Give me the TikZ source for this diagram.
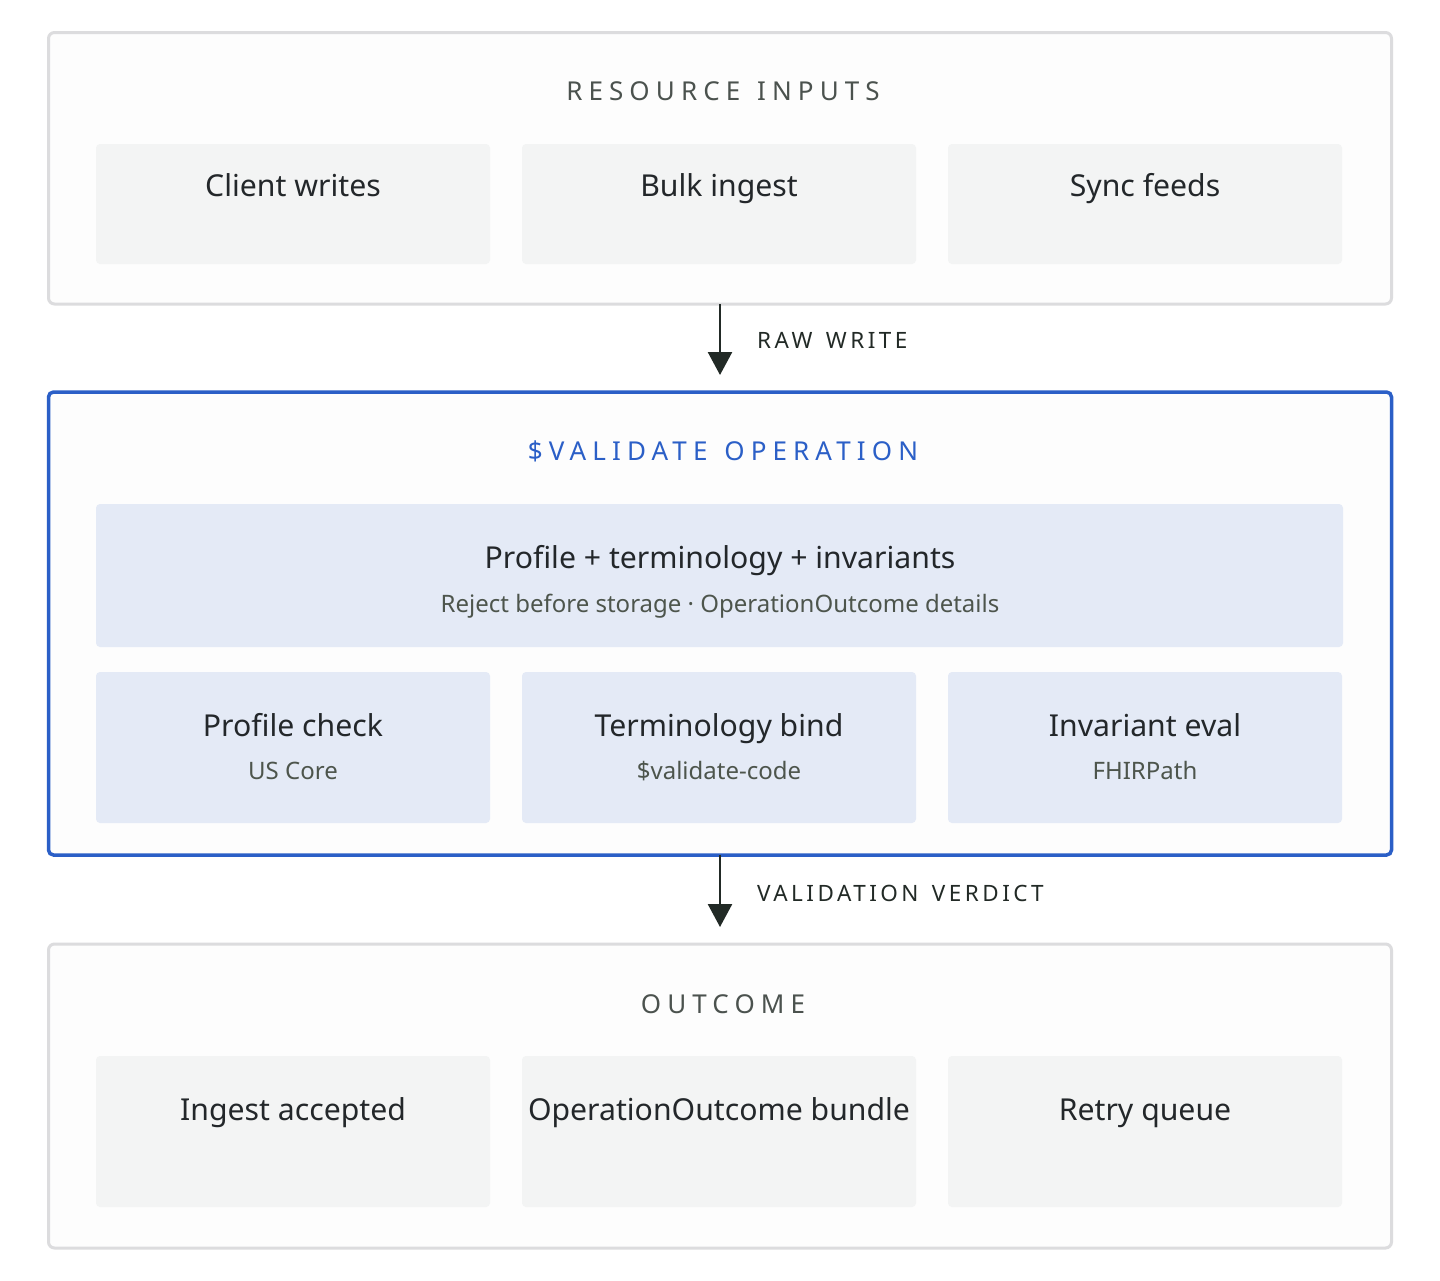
\documentclass[tikz,border=0pt]{standalone}
\usepackage{fontspec}
\setmainfont{Noto Sans}
\newfontfamily\spacedfont[LetterSpace=23.5]{Noto Sans}
\newfontfamily\labelfont[LetterSpace=15.5]{Noto Sans}
\usetikzlibrary{arrows.meta}
\definecolor{frameGray}{HTML}{DCDCDE}
\definecolor{frameFill}{HTML}{FDFDFD}
\definecolor{boxGray}{HTML}{F3F4F4}
\definecolor{blueLine}{HTML}{2B5FC7}
\definecolor{blueFill}{HTML}{E4EAF6}
\definecolor{titleInk}{HTML}{23272A}
\definecolor{subInk}{HTML}{4D554C}
\definecolor{secInk}{HTML}{4B524E}
\definecolor{arrowInk}{HTML}{222A26}
\newcommand{\wsp}{\hspace{4pt}}
\tikzset{
  frame/.style={draw=frameGray, line width=3pt, fill=frameFill, rounded corners=6pt},
  blueframe/.style={draw=blueLine, line width=3.5pt, fill=frameFill, rounded corners=5pt},
  graybox/.style={fill=boxGray, rounded corners=4pt},
  bluebox/.style={fill=blueFill, rounded corners=4pt},
  sectitle/.style={anchor=base, inner sep=0pt, text=secInk, font=\spacedfont\fontsize{26}{30}\selectfont},
  bluetitle/.style={anchor=base, inner sep=0pt, text=blueLine, font=\spacedfont\fontsize{26}{30}\selectfont},
  boxtitle/.style={anchor=base, inner sep=0pt, text=titleInk, font=\fontsize{30.2}{36}\selectfont},
  boxsub/.style={anchor=base, inner sep=0pt, text=subInk, font=\fontsize{24}{28}\selectfont},
  flowlabel/.style={anchor=base west, inner sep=0pt, text=arrowInk, font=\labelfont\fontsize{22.5}{26}\selectfont},
  flow/.style={draw=arrowInk, line width=2.5pt, -{Triangle[width=24pt,length=23pt]}},
}
\begin{document}
\begin{tikzpicture}[x=1pt,y=-1pt]
\useasboundingbox[fill=white] (0,0) rectangle (1440,1280);

% Top container
\path[frame] (48.5,32.5) rectangle (1391.5,304);
\node (topC) at (720,304) [inner sep=0pt] {};
\node[sectitle] (secA) at (723,100) {RESOURCE\wsp{} INPUTS};
\path[graybox] (96,144) rectangle (490,264);
\path[graybox] (522,144) rectangle (916,264);
\path[graybox] (948,144) rectangle (1342,264);
\node[boxtitle] (client) at (293,196) {Client writes};
\node[boxtitle] (bulk) at (719,196) {Bulk ingest};
\node[boxtitle] (sync) at (1145,196) {Sync feeds};

% Arrow 1
\coordinate (tip1) at (720,375);
\draw[flow] (topC.center) -- (tip1);
\node[flowlabel] (raw) at (757,348) {RAW\wsp{} WRITE};

% Middle container
\path[blueframe] (48.5,392) rectangle (1391.5,855);
\node (midC) at (720,855) [inner sep=0pt] {};
\node[bluetitle] (secB) at (723,460) {\$VALIDATE\wsp{} OPERATION};
\path[bluebox] (96,504) rectangle (1343,647);
\node[boxtitle] (wideT) at (720,568) {Profile + terminology + invariants};
\node[boxsub] (wideS) at (720,612) {Reject before storage · OperationOutcome details};
\path[bluebox] (96,672) rectangle (490,823);
\path[bluebox] (522,672) rectangle (916,823);
\path[bluebox] (948,672) rectangle (1342,823);
\node[boxtitle] (prof) at (293,736) {Profile check};
\node[boxsub] (profS) at (293,779) {US Core};
\node[boxtitle] (term) at (719,736) {Terminology bind};
\node[boxsub] (termS) at (719,779) {\$validate-code};
\node[boxtitle] (inv) at (1145,736) {Invariant eval};
\node[boxsub] (invS) at (1145,779) {FHIRPath};

% Arrow 2
\coordinate (tip2) at (720,927);
\draw[flow] (midC.center) -- (tip2);
\node[flowlabel] (verdict) at (757,901) {VALIDATION\wsp{} VERDICT};

% Bottom container
\path[frame] (48.5,944) rectangle (1391.5,1248);
\node[sectitle] (secC) at (723,1013) {OUTCOME};
\path[graybox] (96,1056) rectangle (490,1207);
\path[graybox] (522,1056) rectangle (916,1207);
\path[graybox] (948,1056) rectangle (1342,1207);
\node[boxtitle] (acc) at (293,1120) {Ingest accepted};
\node[boxtitle] (bundle) at (719,1120) {OperationOutcome bundle};
\node[boxtitle] (retry) at (1145,1120) {Retry queue};
\end{tikzpicture}
\end{document}
